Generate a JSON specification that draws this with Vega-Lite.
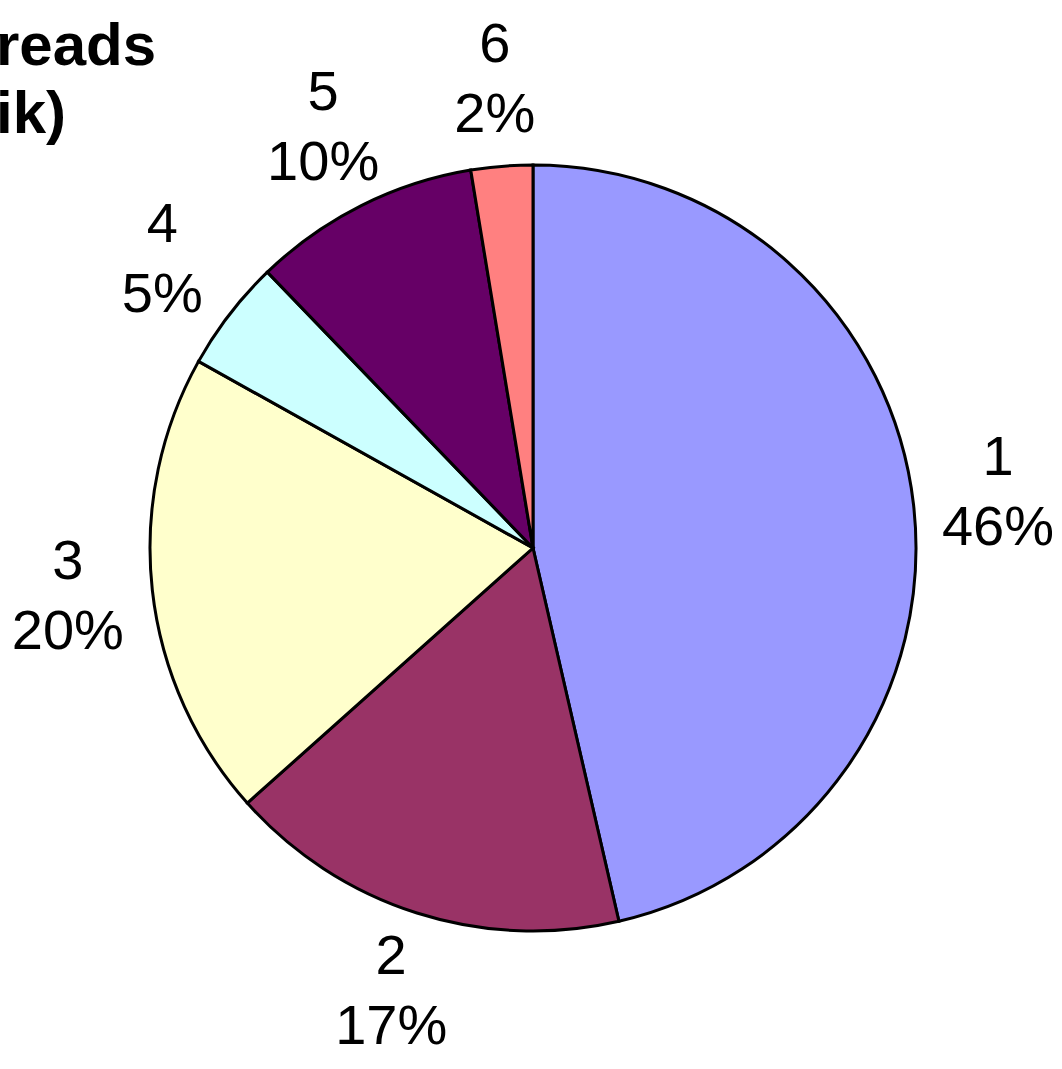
{
  "$schema": "https://vega.github.io/schema/vega-lite/v6.json",
  "width": 1066,
  "height": 1096,
  "autosize": {"type": "none"},
  "padding": 0,
  "background": "white",
  "title": {
    "text": ["reads", "ik)"],
    "anchor": "start",
    "frame": "group",
    "align": "left",
    "font": "Liberation Sans",
    "fontSize": 60,
    "fontWeight": "bold",
    "lineHeight": 68,
    "color": "black",
    "offset": 0,
    "dy": 146,
    "dx": -4
  },
  "data": {
    "values": [
      {"slice": "1", "value": 46.4, "order": 1, "label": "1\n46%"},
      {"slice": "2", "value": 17.0, "order": 2, "label": "2\n17%"},
      {"slice": "3", "value": 19.7, "order": 3, "label": "3\n20%"},
      {"slice": "4", "value": 4.7, "order": 4, "label": "4\n5%"},
      {"slice": "5", "value": 9.6, "order": 5, "label": "5\n10%"},
      {"slice": "6", "value": 2.6, "order": 6, "label": "6\n2%"}
    ]
  },
  "encoding": {
    "theta": {"field": "value", "type": "quantitative", "stack": true},
    "order": {"field": "order", "type": "quantitative"}
  },
  "layer": [
    {
      "mark": {"type": "arc", "outerRadius": 383, "stroke": "black", "strokeWidth": 3},
      "encoding": {
        "color": {
          "field": "slice",
          "type": "nominal",
          "scale": {
            "domain": ["1", "2", "3", "4", "5", "6"],
            "range": ["#9999FF", "#993366", "#FFFFCC", "#CCFFFF", "#660066", "#FF8080"]
          },
          "legend": null
        }
      }
    },
    {
      "mark": {
        "type": "text",
        "radius": 468,
        "font": "Liberation Sans",
        "fontSize": 56,
        "lineHeight": 70,
        "lineBreak": "\n",
        "align": "center",
        "baseline": "middle",
        "dy": -37,
        "color": "black"
      },
      "encoding": {
        "text": {"field": "label", "type": "nominal"}
      }
    }
  ]
}
